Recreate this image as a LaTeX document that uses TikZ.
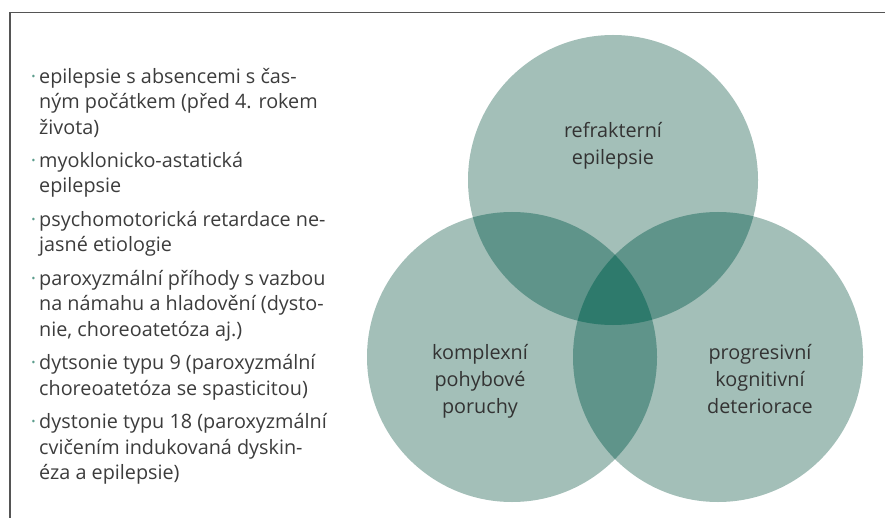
\documentclass[tikz,border=0pt]{standalone}
\usepackage{fontspec}
\setmainfont{Open Sans}
\usetikzlibrary{positioning}

\definecolor{vennlight}{HTML}{A3BFB8}
\definecolor{vennmid}{HTML}{5F948A}
\definecolor{venndark}{HTML}{2E7A6C}
\definecolor{dotcol}{HTML}{5C9C8C}
\definecolor{txtgray}{HTML}{3C3C3C}
\definecolor{framegray}{HTML}{555555}

\newcommand\itemdot{\makebox[0pt][r]{\textcolor{dotcol}{\textperiodcentered}\hspace{3pt}}}

\begin{document}
\begin{tikzpicture}[x=1pt,y=-1pt,node distance=7.5pt,
      every node/.style={text=txtgray,font=\fontsize{19.8}{25.5}\selectfont},
      item/.style={anchor=north west,align=left,inner sep=0pt},
      circtext/.style={align=center,inner sep=0pt,text=black!80,
        font=\fontsize{19.8}{26.7}\selectfont},
      frame/.style={draw=framegray,line width=1.4pt}]
  \useasboundingbox (0,0) rectangle (885,518);
  \draw[frame] (10,518) |- (885,12.7);

  % three sets
  \coordinate (cTop) at (613,180);
  \coordinate (cLeft) at (512,357);
  \coordinate (cRight) at (718,357);
  \fill[vennlight] (cTop) circle[radius=145pt] (cLeft) circle[radius=145pt]
    (cRight) circle[radius=145pt];
  \begin{scope}
    \clip (cTop) circle[radius=145pt];
    \fill[vennmid] (cLeft) circle[radius=145pt] (cRight) circle[radius=145pt];
  \end{scope}
  \begin{scope}
    \clip (cLeft) circle[radius=145pt];
    \fill[vennmid] (cRight) circle[radius=145pt];
  \end{scope}
  \begin{scope}
    \clip (cTop) circle[radius=145pt];
    \clip (cLeft) circle[radius=145pt];
    \fill[venndark] (cRight) circle[radius=145pt];
  \end{scope}

  \node[circtext] (refr) at (613,146) {\strut refrakterní\\epilepsie\strut};
  \node[circtext] (pohyb) at (480,381) {\strut komplexní\\pohybové\\poruchy\strut};
  \node[circtext] (kogn) at (760,381) {\strut progresivní\\kognitivní\\deteriorace\strut};

  % list on the left
  \node[item] (absence) at (39,65) {\itemdot\strut epilepsie s absencemi s čas-\\ným počátkem (před 4. rokem\\života)\strut};
  \node[item] (myoklon) [below=of absence.south west,anchor=north west] {\itemdot\strut myoklonicko-astatická\\epilepsie\strut};
  \node[item] (psycho) [below=of myoklon.south west,anchor=north west] {\itemdot\strut psychomotorická retardace ne-\\jasné etiologie\strut};
  \node[item] (paroxy) [below=of psycho.south west,anchor=north west] {\itemdot\strut paroxyzmální příhody s vazbou\\na námahu a hladovění (dysto-\\nie, choreoatetóza aj.)\strut};
  \node[item] (typ9) [below=of paroxy.south west,anchor=north west] {\itemdot\strut dytsonie typu 9 (paroxyzmální\\choreoatetóza se spasticitou)\strut};
  \node[item] (typ18) [below=of typ9.south west,anchor=north west] {\itemdot\strut dystonie typu 18 (paroxyzmální\\cvičením indukovaná dyskin-\\éza a epilepsie)\strut};
\end{tikzpicture}
\end{document}
